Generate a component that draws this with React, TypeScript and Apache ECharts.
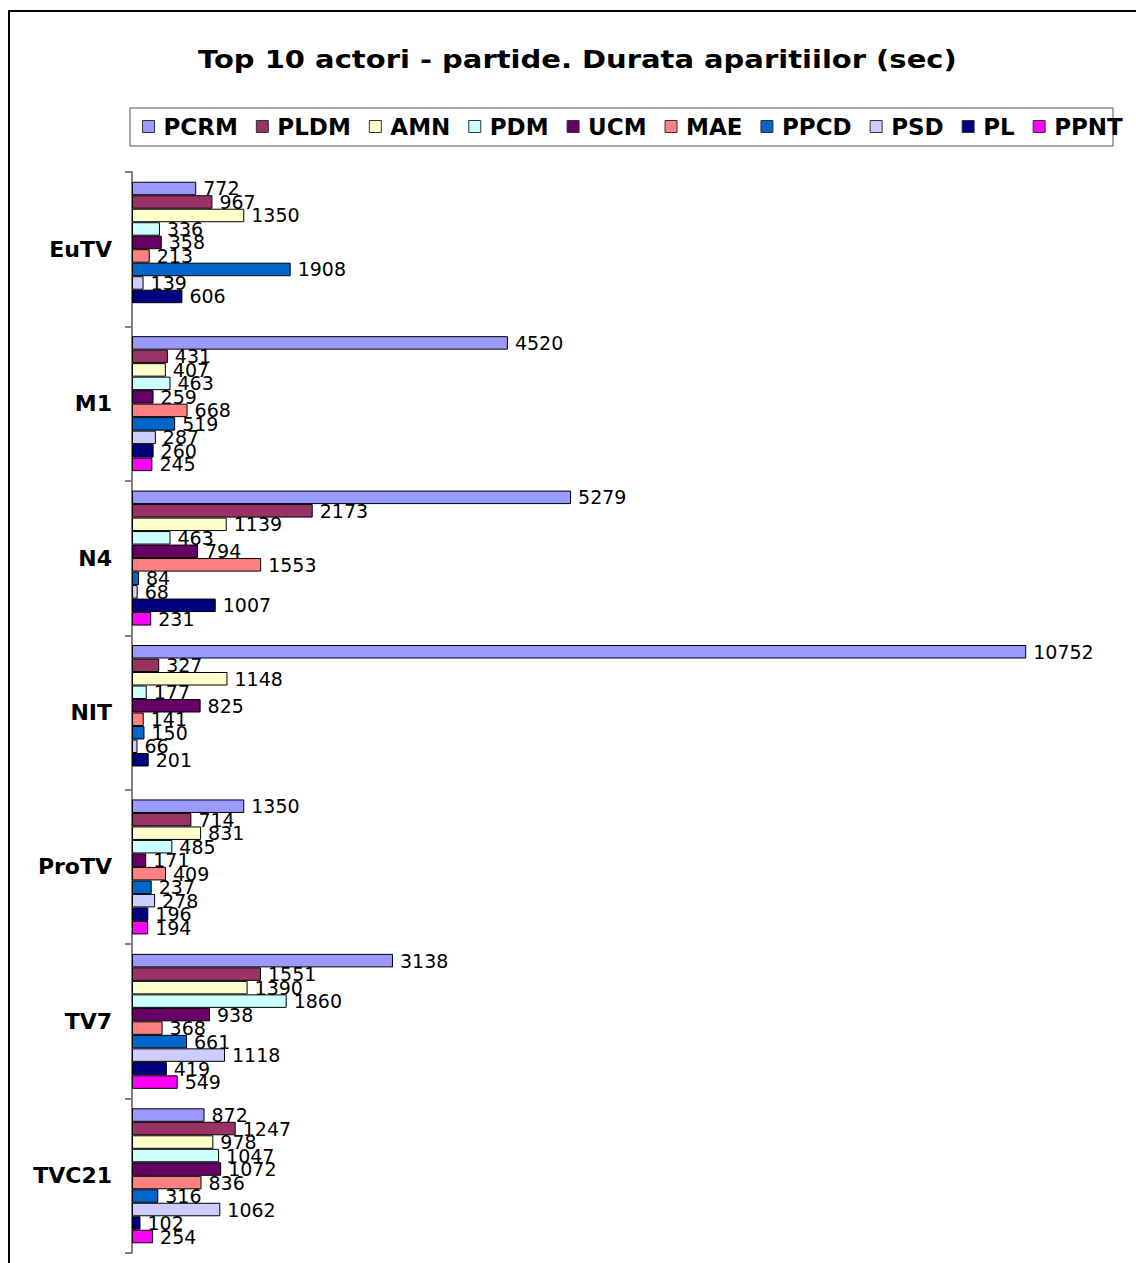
import React, { useEffect, useRef } from "react";
import * as echarts from "echarts";

const categories = ["EuTV", "M1", "N4", "NIT", "ProTV", "TV7", "TVC21"];
const seriesNames = ["PCRM", "PLDM", "AMN", "PDM", "UCM", "MAE", "PPCD", "PSD", "PL", "PPNT"];
const PCRM = [772, 4520, 5279, 10752, 1350, 3138, 872];
const PLDM = [967, 431, 2173, 327, 714, 1551, 1247];
const AMN = [1350, 407, 1139, 1148, 831, 1390, 978];
const PDM = [336, 463, 463, 177, 485, 1860, 1047];
const UCM = [358, 259, 794, 825, 171, 938, 1072];
const MAE = [213, 668, 1553, 141, 409, 368, 836];
const PPCD = [1908, 519, 84, 150, 237, 661, 316];
const PSD = [139, 287, 68, 66, 278, 1118, 1062];
const PL = [606, 260, 1007, 201, 196, 419, 102];
const PPNT = [null, 245, 231, null, 194, 549, 254];
const seriesValues = [PCRM, PLDM, AMN, PDM, UCM, MAE, PPCD, PSD, PL, PPNT];
const colors = ["#9999FF", "#993366", "#FFFFCC", "#CCFFFF", "#660066", "#FF8080", "#0066CC", "#CCCCFF", "#000080", "#FF00FF"];
const titleText = "Top 10 actori - partide. Durata aparitiilor (sec)";

const FONT = "DejaVu Sans, Verdana, sans-serif";

export default function App() {
  const ref = useRef<HTMLDivElement>(null);
  useEffect(() => {
    if (!ref.current) return;
    const chart = echarts.init(ref.current, null, { renderer: "svg" });
    chart.setOption({
      animation: false,
      backgroundColor: "#fff",
      color: colors,
      legend: {
        data: seriesNames,
        left: 134,
        top: 107,
        itemWidth: 12,
        itemHeight: 12,
        itemGap: 18,
        icon: "rect",
        padding: 0,
        itemStyle: { borderColor: "#333", borderWidth: 1 },
        textStyle: { fontFamily: FONT, fontSize: 23, fontWeight: "bold", color: "#000", padding: [0, 0, 0, 4] },
      },
      graphic: [
        { type: "line", shape: { x1: 0, y1: 3, x2: 1130, y2: 3 }, style: { stroke: "#000", lineWidth: 2 } },
        { type: "line", shape: { x1: 1, y1: 2, x2: 1, y2: 1260 }, style: { stroke: "#000", lineWidth: 2 } },
        { type: "rect", shape: { x: 122, y: 100, width: 983, height: 38 }, style: { fill: "none", stroke: "#555", lineWidth: 1 } },
        {
          type: "text",
          x: 190,
          y: 51,
          scaleX: 1.16,
          style: {
            text: titleText,
            fontFamily: FONT,
            fontSize: 25,
            fontWeight: "bold",
            fill: "#000",
            verticalAlign: "middle",
            align: "left",
          },
        },
      ],
      grid: { left: 124, right: 6, top: 164, bottom: 10, containLabel: false },
      xAxis: {
        type: "value",
        min: 0,
        max: 12000,
        axisLine: { show: false },
        axisTick: { show: false },
        axisLabel: { show: false },
        splitLine: { show: false },
      },
      yAxis: {
        type: "category",
        data: categories,
        inverse: true,
        axisLine: { show: true, lineStyle: { color: "#808080", width: 2 } },
        axisTick: { show: true, length: 7, lineStyle: { color: "#808080", width: 2 } },
        axisLabel: { margin: 20, fontFamily: FONT, fontSize: 22, fontWeight: "bold", color: "#000" },
      },
      series: seriesNames.map((name, i) => ({
        name,
        type: "bar",
        data: seriesValues[i],
        barGap: "0%",
        barCategoryGap: "12.6%",
        itemStyle: { color: colors[i], borderColor: "#000", borderWidth: 1 },
        label: {
          show: true,
          position: "right",
          distance: 7,
          fontFamily: FONT,
          fontSize: 19,
          color: "#000",
        },
      })),
    });
    return () => chart.dispose();
  }, []);
  return (
    <div style={{ position: "absolute", left: 8, top: 8, width: 1128, height: 1255, overflow: "hidden" }}>
      <div ref={ref} style={{ width: 1128, height: 1255 }} />
    </div>
  );
}
